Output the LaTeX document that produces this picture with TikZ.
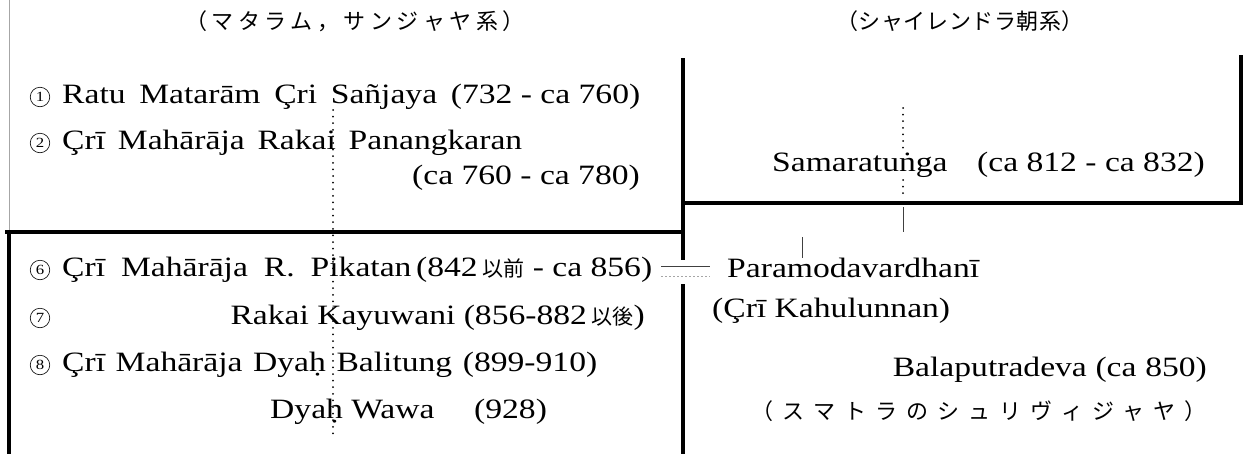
\documentclass[tikz,border=0pt]{standalone}
\usepackage{fontspec}
\setmainfont{Liberation Serif}[FakeStretch=1.2]
\newfontfamily\jp{Noto Sans CJK JP}
\newcommand{\jsm}{\jp\fontsize{21}{24}\selectfont}
\begin{document}
\begin{tikzpicture}[x=1pt,y=-1pt,
  thickline/.style={line width=3.6pt, black, line cap=rect},
  thinline/.style={line width=0.8pt, black!75},
  faintline/.style={line width=0.8pt, black!35},
  dotline/.style={line width=2pt, dash pattern=on 0pt off 6.6pt, line cap=round},
  lbl/.style={font=\fontsize{28}{32}\selectfont, inner sep=0pt, anchor=west},
  rlbl/.style={font=\fontsize{28}{32}\selectfont, inner sep=0pt, anchor=east},
  jlbl/.style={font=\jp\fontsize{22}{26}\selectfont, inner sep=0pt},
  num/.style={circle, draw, line width=0.6pt, minimum size=19.5pt, inner sep=0pt, font=\fontsize{14}{14}\selectfont}
]
\useasboundingbox (0,0) rectangle (1244,453);

% box corners
\coordinate (ulA) at (9,0);
\coordinate (ulB) at (9,232);
\coordinate (llA) at (7,232);
\coordinate (llB) at (683,232);
\coordinate (llC) at (9,453);
\coordinate (mA) at (683,60);
\coordinate (mB) at (683,258);
\coordinate (mC) at (683,286);
\coordinate (mD) at (683,453);
\coordinate (rA) at (683,203);
\coordinate (rB) at (1241,203);
\coordinate (rC) at (1241,57);

\draw[faintline] (ulA) -- (ulB);
\draw[thickline] (llA) -- (llB);
\draw[thickline] (ulB) -- (llC);
\draw[thickline] (mA) -- (mB);
\draw[thickline] (mC) -- (mD);
\draw[thickline] (rA) -- (rB) -- (rC);

% titles
\node[jlbl] (title1) at (355,21) {\makebox[340pt]{（\hfill マ\hfill タ\hfill ラ\hfill ム\hfill ，\hfill サ\hfill ン\hfill ジ\hfill ャ\hfill ヤ\hfill 系\hfill ）}};
\node[jlbl] (title2) at (960,21) {\makebox[248pt]{（\hfill シ\hfill ャ\hfill イ\hfill レ\hfill ン\hfill ド\hfill ラ\hfill 朝\hfill 系\hfill ）}};

% numbers
\node[num] (n1) at (40,97) {1};
\node[num] (n2) at (40,143) {2};
\node[num] (n6) at (40,270) {6};
\node[num] (n7) at (40,318) {7};
\node[num] (n8) at (40,365) {8};

% dotted descent line (behind text)
\coordinate (dA) at (333,110);
\coordinate (dB) at (333,434);
\draw[dotline] (dA) -- (dB);

% left texts
\node[lbl] (t1) at (62,97) {\makebox[578pt][s]{Ratu Matarām Çri Sañjaya \mbox{(732 - ca 760)}}};
\node[lbl] (t2) at (62,143) {\makebox[460pt][s]{Çrī Mahārāja Rakai Panangkaran}};
\node[rlbl] (t2b) at (640,178) {(ca 760 - ca 780)};
\node[lbl] (t6) at (62,270) {\makebox[590pt][s]{Çrī Mahārāja R. Pikatan\mbox{\,(842\,{\jsm 以前} - ca 856)}}};
\node[rlbl] (t7) at (645,318) {Rakai Kayuwani (856-882\,{\jsm 以後})};
\node[lbl] (t8) at (62,365) {\makebox[535pt][s]{Çrī Mahārāja Dyaḥ Balitung \mbox{(899-910)}}};
\node[lbl] (t9) at (270,412) {Dyaḥ Wawa};
\node[lbl] (t9b) at (474,412) {(928)};

% right texts
\coordinate (sA) at (903,108);
\coordinate (sB) at (903,150);
\coordinate (sC) at (903,180);
\coordinate (sD) at (903,199);
\draw[dotline] (sA) -- (sB);
\draw[dotline] (sC) -- (sD);
\node[lbl] (samA) at (772,165) {Samaratuṅga};
\node[rlbl] (samB) at (1205,165) {(ca 812 - ca 832)};

\coordinate (vA) at (903,207);
\coordinate (vB) at (903,232);
\draw[thinline] (vA) -- (vB);
\coordinate (wA) at (802,237);
\coordinate (wB) at (802,258);
\draw[thinline] (wA) -- (wB);

\node[lbl] (para) at (727,268) {Paramodavardhanī};
\node[lbl] (kahu) at (712,311) {(Çrī Kahulunnan)};

% marriage sign
\coordinate (eA) at (661,266);
\coordinate (eB) at (710,266);
\coordinate (eC) at (661,276);
\coordinate (eD) at (710,276);
\draw[thinline] (eA) -- (eB);
\draw[faintline, dash pattern=on 2pt off 2pt] (eC) -- (eD);

\node[rlbl] (bala) at (1207,370) {\makebox[314pt][s]{Balaputradeva (ca 850)}};
\node[jlbl, anchor=east] (sum) at (1207,411) {\makebox[455pt]{（\hfill ス\hfill マ\hfill ト\hfill ラ\hfill の\hfill シ\hfill ュ\hfill リ\hfill ヴ\hfill ィ\hfill ジ\hfill ャ\hfill ヤ\hfill ）}};
\end{tikzpicture}
\end{document}
